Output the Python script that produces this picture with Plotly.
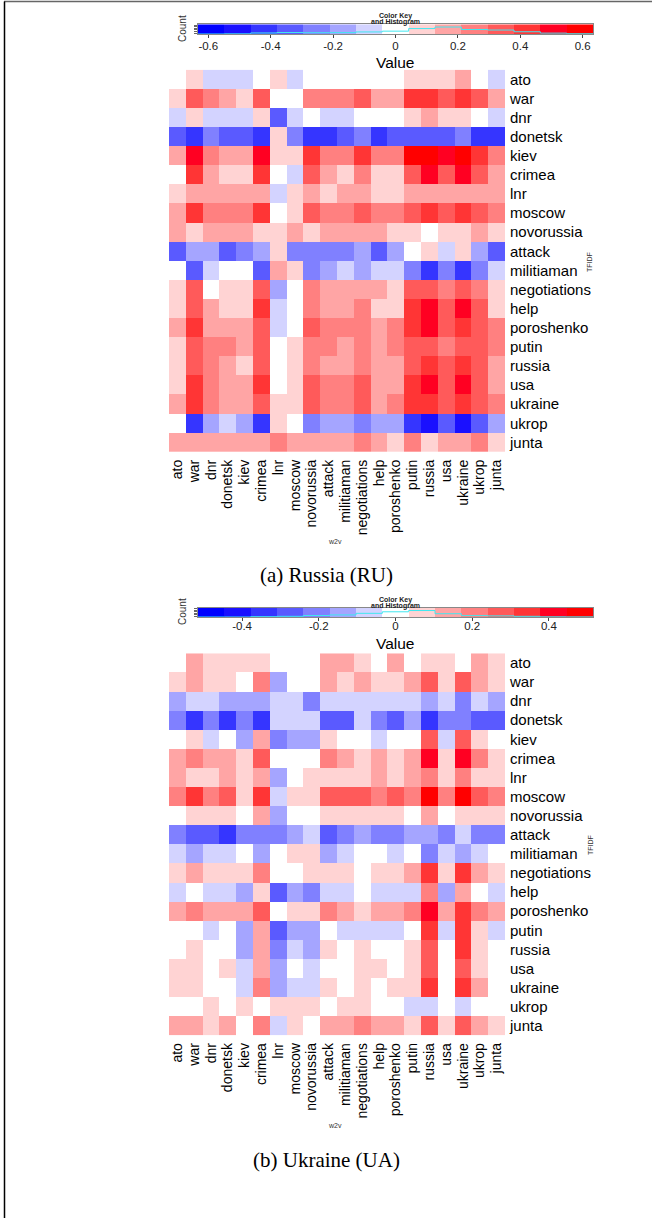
import numpy as np
import plotly.graph_objects as go

# ---------------- data ----------------
words = ["ato", "war", "dnr", "donetsk", "kiev", "crimea", "lnr", "moscow",
         "novorussia", "attack", "militiaman", "negotiations", "help",
         "poroshenko", "putin", "russia", "usa", "ukraine", "ukrop", "junta"]

# rows = TFIDF words (top to bottom), columns = w2v words (left to right)
ru_values = [
    [0, .08, -.08, -.08, -.08, 0, .08, -.08, 0, 0, 0, 0, 0, 0, .08, .08, .08, .17, 0, -.08],
    [.08, .34, .25, .17, .08, .34, 0, 0, .25, .25, .25, .34, .17, .17, .42, .42, .34, .42, .34, .17],
    [-.08, .08, -.08, -.08, -.08, .08, -.34, -.08, 0, -.08, -.08, 0, 0, 0, .08, .17, .08, .08, 0, -.08],
    [-.34, -.42, -.25, -.34, -.34, -.42, .08, -.25, -.42, -.42, -.34, -.25, -.42, -.34, -.34, -.34, -.34, -.25, -.42, -.42],
    [.17, .51, .25, .17, .17, .51, .08, .08, .42, .25, .25, .42, .25, .25, .59, .59, .51, .59, .42, .25],
    [0, .42, .17, .08, .08, .42, 0, -.08, .34, .17, .08, .25, .08, .08, .34, .51, .34, .51, .34, .17],
    [.08, .17, .17, .17, .17, .17, -.08, .08, .17, .08, .17, .17, .08, .08, .17, .17, .17, .17, .17, .17],
    [.17, .42, .25, .25, .25, .42, 0, .08, .34, .25, .25, .34, .25, .25, .34, .42, .34, .42, .34, .25],
    [.17, .08, .17, .17, .17, .08, .08, .17, .08, .17, .17, .17, .17, .08, .08, 0, .08, .08, .17, .08],
    [-.34, -.17, -.17, -.34, -.25, -.17, .08, -.25, -.25, -.25, -.25, -.17, -.34, -.17, 0, .08, -.08, .08, -.17, -.34],
    [0, -.34, -.08, 0, 0, -.34, .17, .08, -.25, -.17, -.08, -.17, -.08, -.08, -.25, -.42, -.25, -.42, -.25, -.08],
    [.08, .34, 0, .08, .08, .34, -.17, 0, .25, .17, .17, .17, .17, .08, .34, .34, .25, .34, .25, .08],
    [.08, .34, .17, .08, .08, .42, -.08, 0, .25, .17, .17, .25, .08, .08, .42, .51, .34, .51, .34, .08],
    [.17, .42, .17, .17, .17, .34, -.08, 0, .34, .25, .25, .25, .17, .25, .42, .51, .34, .42, .34, .25],
    [.08, .34, .25, .25, .17, .34, 0, .08, .25, .25, .17, .25, .17, .25, .34, .34, .25, .34, .34, .25],
    [.08, .34, .25, .17, .08, .34, 0, .08, .25, .17, .17, .25, .17, .17, .34, .42, .34, .42, .34, .17],
    [.08, .42, .25, .17, .17, .42, 0, .08, .34, .25, .25, .34, .17, .17, .42, .51, .34, .51, .34, .17],
    [.17, .42, .25, .17, .17, .34, .08, .08, .34, .25, .25, .34, .17, .25, .42, .42, .34, .42, .34, .25],
    [0, -.42, -.17, -.08, -.17, -.42, .08, 0, -.25, -.17, -.17, -.25, -.17, -.17, -.42, -.51, -.34, -.51, -.34, -.17],
    [.17, .17, .17, .17, .17, .17, .25, .17, .17, .17, .17, .25, .17, .08, .25, .08, .17, .17, .25, .08],
]

ua_values = [
    [0, .14, .07, .07, .07, .07, 0, 0, 0, .14, .14, .07, 0, .14, 0, .07, .07, 0, .14, .07],
    [.07, .14, .07, .07, 0, .21, -.14, 0, 0, .14, .07, .14, .07, .07, .14, .27, .07, .27, .14, .07],
    [-.14, -.07, -.07, -.14, -.14, -.14, -.07, -.07, -.21, -.07, -.07, -.07, -.07, -.07, -.07, -.14, -.07, -.21, -.07, -.14],
    [-.21, -.34, -.21, -.34, -.21, -.34, -.07, -.07, -.07, -.27, -.27, -.07, -.21, -.27, -.14, -.34, -.21, -.21, -.27, -.27],
    [0, .07, -.07, 0, -.14, .14, -.21, -.14, -.14, .07, 0, 0, -.07, 0, 0, .27, -.07, .27, .07, 0],
    [.14, .21, .14, .14, .07, .27, 0, 0, 0, .21, .14, .07, .14, .07, .14, .41, .07, .41, .21, .07],
    [.14, .07, .07, .14, .07, .14, -.14, 0, .07, .07, .07, .07, .14, .07, .14, .21, .07, .21, .07, .07],
    [.21, .34, .21, .27, .07, .34, -.07, .07, .07, .27, .27, .27, .21, .27, .21, .48, .21, .48, .27, .21],
    [0, .07, .07, .07, 0, .14, -.14, 0, 0, .07, .07, .07, .07, .07, 0, .14, 0, .07, .07, .07],
    [-.21, -.27, -.27, -.34, -.21, -.21, -.21, -.14, -.07, -.27, -.21, -.14, -.21, -.21, -.14, -.14, -.21, -.07, -.21, -.21],
    [-.07, -.14, -.07, -.07, 0, -.14, 0, .07, .07, -.14, -.07, 0, 0, -.07, 0, -.21, -.07, -.14, -.07, 0],
    [.07, .14, .07, .07, .07, .21, 0, 0, .07, .07, .07, 0, .07, .07, .14, .34, .07, .34, .14, .07],
    [-.07, 0, -.07, -.07, -.14, .07, -.27, -.14, -.21, -.07, -.07, 0, -.07, -.07, -.07, .21, -.14, .14, 0, -.07],
    [.14, .21, .14, .14, .14, .27, 0, .07, .07, .21, .14, .07, .14, .14, .21, .41, .14, .34, .21, .14],
    [0, 0, -.07, 0, -.14, .14, -.27, -.14, -.14, 0, -.07, -.07, -.07, -.07, 0, .34, -.07, .34, .07, -.07],
    [0, .07, 0, 0, -.14, .14, -.21, -.07, -.14, .07, 0, .07, 0, 0, .07, .27, 0, .34, .07, 0],
    [.07, .07, 0, .07, -.07, .14, -.14, 0, -.07, 0, 0, .07, .07, 0, .07, .27, 0, .27, .07, 0],
    [.07, .07, 0, 0, -.07, .21, -.14, -.07, -.07, .07, 0, .07, 0, .07, .07, .34, 0, .34, .14, 0],
    [0, 0, .07, 0, .07, 0, .07, .07, .07, 0, .07, .07, 0, 0, -.07, -.07, 0, -.07, 0, 0],
    [.14, .14, .07, .14, 0, .21, -.07, .07, 0, .14, .14, .21, .14, .14, .07, .27, .07, .27, .14, .07],
]

ru_key_range = 0.633
ua_key_range = 0.515
ru_key_ticks = [-0.6, -0.4, -0.2, 0, 0.2, 0.4, 0.6]
ua_key_ticks = [-0.4, -0.2, 0, 0.2, 0.4]
n_bins = 15

key_colors = ["#0000FF", "#1A10FF", "#3535FF", "#5A5AFF", "#8080FF", "#A5A5FF", "#D3D3FF",
              "#FFFFFF",
              "#FFD3D3", "#FFA5A5", "#FF8080", "#FF5A5A", "#FF3535", "#FF0022", "#FF0000"]

captions = ["(a) Russia (RU)", "(b) Ukraine (UA)"]

# ---------------- layout helpers ----------------
W, H = 652, 1218


def fx(x):
    return x / W


def fy(y):
    return 1 - y / H


colorscale = []
for k, c in enumerate(key_colors):
    colorscale.append([k / n_bins, c])
    colorscale.append([(k + 1) / n_bins, c])

FONT = "Liberation Sans, Arial, sans-serif"
SERIF = "Liberation Serif, Times New Roman, serif"

panels = [
    dict(values=ru_values, R=ru_key_range, ticks=ru_key_ticks, caption=captions[0],
         heat=(69.7, 452.0), key=(24.3, 34.0), title_y=(15.5, 21.5), value_y=62,
         count_y=29, tfidf_y=262, w2v_y=541, cap_y=575, standoff=-2),
    dict(values=ua_values, R=ua_key_range, ticks=ua_key_ticks, caption=captions[1],
         heat=(653.3, 1035.3), key=(608.0, 617.0), title_y=(599.5, 605.5), value_y=643,
         count_y=612, tfidf_y=845, w2v_y=1125, cap_y=1160, standoff=-5),
]

heat_x = (169.0, 505.0)
key_x = (198.0, 593.0)

fig = go.Figure()
annotations = []
layout_axes = {}

for i, p in enumerate(panels):
    hx = "x" if i == 0 else f"x{2 * i + 1}"
    hy = "y" if i == 0 else f"y{2 * i + 1}"
    kx = f"x{2 * i + 2}"
    ky = f"y{2 * i + 2}"
    hxa = "xaxis" if i == 0 else f"xaxis{2 * i + 1}"
    hya = "yaxis" if i == 0 else f"yaxis{2 * i + 1}"
    kxa = f"xaxis{2 * i + 2}"
    kya = f"yaxis{2 * i + 2}"
    R = p["R"]
    z = np.array(p["values"], dtype=float)

    # main heatmap
    fig.add_trace(go.Heatmap(
        z=z, x=words, y=words, colorscale=colorscale, zmin=-R, zmax=R,
        showscale=False, xaxis=hx, yaxis=hy, hoverinfo="skip"))

    layout_axes[hxa] = dict(
        domain=[fx(heat_x[0]), fx(heat_x[1])], anchor=hy, tickangle=-90,
        tickmode="array", tickvals=words, ticktext=words,
        tickfont=dict(family=FONT, size=14, color="black"), showgrid=False,
        zeroline=False, showline=False, ticks="", type="category",
        ticklabelstandoff=4)
    layout_axes[hya] = dict(
        domain=[fy(p["heat"][1]), fy(p["heat"][0])], anchor=hx, side="right",
        autorange="reversed", tickmode="array", tickvals=words, ticktext=words,
        tickfont=dict(family=FONT, size=15, color="black"),
        showgrid=False, zeroline=False, showline=False, ticks="", type="category",
        ticklabelstandoff=4)

    # colour key
    edges = np.linspace(-R, R, n_bins + 1)
    centers = (edges[:-1] + edges[1:]) / 2
    fig.add_trace(go.Heatmap(
        z=[centers], x=centers, y=[0.5], colorscale=colorscale, zmin=-R, zmax=R,
        showscale=False, xaxis=kx, yaxis=ky, hoverinfo="skip"))
    counts, _ = np.histogram(z.flatten(), bins=n_bins, range=(-R, R))
    hist_y = counts / counts.max() * 0.72
    fig.add_trace(go.Scatter(
        x=edges, y=np.append(hist_y, hist_y[-1]), mode="lines", line_shape="hv",
        line=dict(color="#40E8F0", width=1), xaxis=kx, yaxis=ky, hoverinfo="skip",
        showlegend=False))

    layout_axes[kxa] = dict(
        domain=[fx(key_x[0]), fx(key_x[1])], anchor=ky, range=[-R, R],
        tickvals=p["ticks"], ticktext=[f"{t:g}" for t in p["ticks"]],
        tickfont=dict(family=FONT, size=11.5, color="#222"), ticks="outside",
        ticklen=3, tickcolor="#444", showgrid=False, zeroline=False,
        showline=True, linecolor="#888", mirror=True, ticklabelstandoff=p["standoff"])
    layout_axes[kya] = dict(
        domain=[fy(p["key"][1]), fy(p["key"][0])], anchor=kx, range=[0, 1],
        tickvals=[0.1, 0.26, 0.42, 0.58, 0.74, 0.9], showticklabels=False,
        ticks="outside", ticklen=3, tickcolor="#666", showgrid=False,
        zeroline=False, showline=True, linecolor="#888", mirror=True)

    # texts
    kc = (key_x[0] + key_x[1]) / 2
    annotations += [
        dict(x=fx(kc), y=fy(p["title_y"][0]), text="<b>Color Key</b>",
             font=dict(family=FONT, size=7, color="#222")),
        dict(x=fx(kc), y=fy(p["title_y"][1]), text="<b>and Histogram</b>",
             font=dict(family=FONT, size=7, color="#222")),
        dict(x=fx(kc), y=fy(p["value_y"]), text="Value",
             font=dict(family=FONT, size=15.5, color="black")),
        dict(x=fx(182), y=fy(p["count_y"]), text="Count", textangle=-90,
             font=dict(family=FONT, size=10, color="#333")),
        dict(x=fx(590), y=fy(p["tfidf_y"]), text="TFIDF", textangle=-90,
             font=dict(family=FONT, size=7, color="#333")),
        dict(x=fx(335), y=fy(p["w2v_y"]), text="w2v",
             font=dict(family=FONT, size=7, color="#333")),
        dict(x=fx(326), y=fy(p["cap_y"]), text=p["caption"],
             font=dict(family=SERIF, size=21, color="black")),
    ]

for a in annotations:
    a.update(xref="paper", yref="paper", showarrow=False, xanchor="center", yanchor="middle")

fig.update_layout(
    width=W, height=H, margin=dict(l=0, r=0, t=0, b=0),
    paper_bgcolor="white", plot_bgcolor="white", showlegend=False,
    annotations=annotations,
    shapes=[
        dict(type="line", xref="paper", yref="paper", x0=fx(4), x1=1, y0=fy(1.5), y1=fy(1.5),
             line=dict(color="#666", width=1.5)),
        dict(type="line", xref="paper", yref="paper", x0=fx(4.5), x1=fx(4.5), y0=0, y1=fy(1.5),
             line=dict(color="black", width=1.5)),
    ],
    **layout_axes,
)

fig.write_html("out.html", config={"displayModeBar": False},
               post_script="document.body.style.margin='0';document.body.style.overflow='hidden';")
